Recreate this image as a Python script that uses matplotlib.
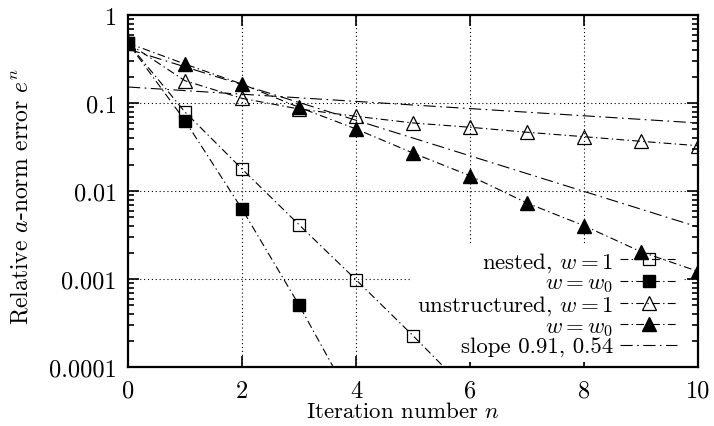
import matplotlib
matplotlib.use("Agg")
import matplotlib.pyplot as plt
from matplotlib.ticker import FixedLocator, LogLocator, NullFormatter

plt.rcParams['font.family'] = 'serif'
plt.rcParams['font.serif'] = ['cmr10']
plt.rcParams['mathtext.fontset'] = 'cm'
plt.rcParams['axes.formatter.use_mathtext'] = True

# ---- data ----
iters_nested = [0, 1, 2, 3, 4, 5, 6]
nested_w1 = [0.48, 0.079, 0.0178, 0.00414, 0.00098, 0.000227, 0.00005]
iters_nested0 = [0, 1, 2, 3, 4]
nested_w0 = [0.48, 0.063, 0.00624, 0.000507, 0.000034]
iters_unstr = [0, 1, 2, 3, 4, 5, 6, 7, 8, 9, 10]
unstr_w1 = [0.48, 0.179, 0.113, 0.0855, 0.0706, 0.0593, 0.053, 0.0465, 0.0414, 0.0367, 0.0327]
unstr_w0 = [0.48, 0.277, 0.164, 0.0893, 0.0507, 0.027, 0.0149, 0.0073, 0.00403, 0.00204, 0.00122]
slope_x = [0, 10]
slope_a = [0.152, 0.0593]
slope_b = [0.41, 0.0039]

xticks = [0, 2, 4, 6, 8, 10]
yticks = [1, 0.1, 0.01, 0.001, 0.0001]
ytick_labels = ['1', '0.1', '0.01', '0.001', '0.0001']

fs_tick = 17.5
fs_xlab = 16.5
fs_ylab = 17
fs_leg = 16.5
fig = plt.figure(figsize=(7.14, 4.27), dpi=100)
ax = fig.add_axes([128/714, 1-368/427, (698-128)/714, (368-16)/427])

dd = (0, (7, 3, 1.2, 3))
sl = (0, (11, 4, 1.5, 4))
lw = 0.8
ms = 9

ax.plot(iters_nested, nested_w1, linestyle=dd, color='black', lw=lw, marker='s',
        ms=ms, mfc='none', mec='black', mew=0.9, label='nested, $w = 1$', zorder=3)
ax.plot(iters_nested0, nested_w0, linestyle=dd, color='black', lw=lw, marker='s',
        ms=ms, mfc='black', mec='black', label='$w = w_0$', zorder=3)
ax.plot(iters_unstr, unstr_w1, linestyle=dd, color='black', lw=lw, marker='^',
        ms=ms+1, mfc='none', mec='black', mew=0.9, label='unstructured, $w = 1$', zorder=3)
ax.plot(iters_unstr, unstr_w0, linestyle=dd, color='black', lw=lw, marker='^',
        ms=ms+1, mfc='black', mec='black', label='$w = w_0$', zorder=3)
ax.plot(slope_x, slope_a, linestyle=sl, color='black', lw=lw, label='slope 0.91, 0.54', zorder=2)
ax.plot(slope_x, slope_b, linestyle=sl, color='black', lw=lw, zorder=2)

ax.set_yscale('log')
ax.set_xlim(0, 10)
ax.set_ylim(0.0001, 1)
ax.set_xticks(xticks)
ax.set_xticklabels([str(t) for t in xticks], fontsize=fs_tick)
ax.yaxis.set_major_locator(FixedLocator(yticks))
ax.set_yticklabels(ytick_labels, fontsize=fs_tick)
ax.yaxis.set_minor_locator(LogLocator(base=10, subs=range(2, 10), numticks=20))
ax.yaxis.set_minor_formatter(NullFormatter())

ax.tick_params(which='both', direction='in', top=True, right=True, width=1.2)
ax.tick_params(which='major', length=8)
ax.tick_params(axis='x', which='major', pad=9)
ax.tick_params(axis='y', which='major', pad=8)
ax.tick_params(which='minor', length=4.5)
for s in ax.spines.values():
    s.set_linewidth(1.6)

for x in [2, 4, 6, 8]:
    ax.axvline(x, color='black', lw=0.8, linestyle=(0, (1, 2.5)), zorder=0.5)
for y in [0.1, 0.01, 0.001]:
    ax.axhline(y, color='black', lw=0.8, linestyle=(0, (1, 2.5)), zorder=0.5)

ax.set_xlabel('Iteration number $n$', fontsize=fs_xlab)
ax.set_ylabel('Relative $a$-norm error $e^n$', fontsize=fs_ylab)
ax.xaxis.set_label_coords((403-128)/570, (368-412)/352)
ax.yaxis.set_label_coords((21-128)/570, (368-197)/352)
ax.xaxis.label.set_va('center')
ax.yaxis.label.set_va('center')

leg = ax.legend(loc='lower right', fontsize=fs_leg, markerfirst=False, frameon=True,
                framealpha=1, edgecolor='none', fancybox=False, handlelength=2.5,
                handletextpad=0.3, labelspacing=-0.05, borderpad=0.2,
                bbox_to_anchor=(0.972, 0.015), borderaxespad=0.0,
                numpoints=1)
leg.set_zorder(1.5)

fig.savefig('out.png', dpi=100)
